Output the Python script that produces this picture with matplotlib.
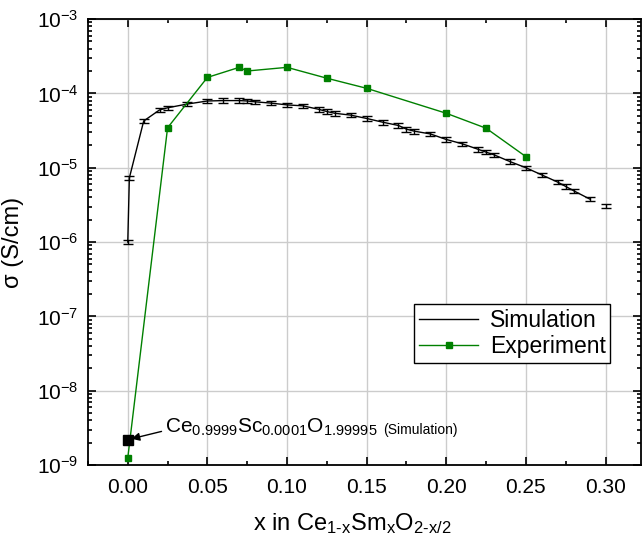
import numpy as np
import matplotlib
matplotlib.use("Agg")
import matplotlib.pyplot as plt
from matplotlib.lines import Line2D
from matplotlib.ticker import LogLocator, MultipleLocator, LogFormatterSciNotation

plt.rcParams['font.family'] = ['Liberation Sans', 'DejaVu Sans']
plt.rcParams['mathtext.fontset'] = 'custom'
plt.rcParams['mathtext.rm'] = 'Liberation Sans'
plt.rcParams['mathtext.it'] = 'Liberation Sans:italic'
plt.rcParams['mathtext.bf'] = 'Liberation Sans:bold'

# simulated conductivity (S/cm) vs Sm fraction x
sim_x = [0.0, 0.001, 0.01, 0.02, 0.025, 0.0375, 0.05, 0.06, 0.07, 0.075, 0.08, 0.09,
         0.10, 0.11, 0.12, 0.125, 0.13, 0.14, 0.15, 0.16, 0.17, 0.175, 0.18, 0.19,
         0.20, 0.21, 0.22, 0.225, 0.23, 0.24, 0.25, 0.26, 0.27, 0.275, 0.28, 0.29]
sim_y = [1.0e-6, 7.3e-6, 4.25e-5, 6.0e-5, 6.4e-5, 7.2e-5, 7.9e-5, 8.0e-5, 8.0e-5, 7.9e-5,
         7.7e-5, 7.4e-5, 7.0e-5, 6.8e-5, 6.1e-5, 5.7e-5, 5.4e-5, 5.1e-5, 4.6e-5, 4.1e-5,
         3.7e-5, 3.3e-5, 3.1e-5, 2.85e-5, 2.4e-5, 2.1e-5, 1.77e-5, 1.62e-5, 1.49e-5,
         1.21e-5, 1.0e-5, 8.0e-6, 6.4e-6, 5.6e-6, 4.9e-6, 3.8e-6]
sim_rel_err = 0.07

# lone simulation point at x = 0.30
sim_last_x = 0.30
sim_last_y = 3.07e-6

# Sc-doped reference composition
sc_x = 0.0
sc_y = 2.15e-9

# measured conductivity
exp_x = [0.0, 0.025, 0.05, 0.07, 0.075, 0.10, 0.125, 0.15, 0.20, 0.225, 0.25]
exp_y = [1.25e-9, 3.45e-5, 1.64e-4, 2.24e-4, 2.0e-4, 2.24e-4, 1.6e-4, 1.17e-4,
         5.4e-5, 3.4e-5, 1.41e-5]

green = '#008000'

fig = plt.figure(figsize=(6.42, 5.44), dpi=100)
ax = fig.add_axes([0.137, 0.145, 0.862, 0.820])

sim_y = np.array(sim_y)
ax.errorbar(sim_x, sim_y, yerr=sim_y * sim_rel_err, color='k', lw=1, elinewidth=1,
            capsize=3.5, capthick=1, zorder=3)
ax.errorbar([sim_last_x], [sim_last_y], yerr=[sim_last_y * sim_rel_err], fmt='none',
            ecolor='k', elinewidth=1, capsize=3.5, capthick=1, zorder=3)
ax.plot(exp_x, exp_y, color=green, lw=1, marker='s', ms=4.5, mfc=green, mec=green,
        zorder=4)
ax.plot([sc_x], [sc_y], 's', color='k', ms=6.5, zorder=5)

ax.annotate('', xy=(0.0023, 2.26e-9), xytext=(0.0212, 2.84e-9),
            arrowprops=dict(arrowstyle='-|>', color='k', lw=1, mutation_scale=12,
                            shrinkA=0, shrinkB=0))
ax.text(0.0233, 2.72e-9, r'Ce$_{0.9999}$Sc$_{0.0001}$O$_{1.99995}$', fontsize=15,
        va='baseline', ha='left')
ax.text(0.1605, 2.62e-9, '(Simulation)', fontsize=10, va='baseline', ha='left')

ax.set_yscale('log')
ax.set_xlim(-0.025, 0.3225)
ax.set_ylim(1e-9, 1e-3)
ax.xaxis.set_major_locator(MultipleLocator(0.05))
ax.xaxis.set_minor_locator(MultipleLocator(0.025))
ax.xaxis.set_major_formatter(plt.FuncFormatter(lambda v, p: f'{v:.2f}'))
ax.yaxis.set_major_locator(LogLocator(base=10, numticks=10))
ax.yaxis.set_minor_locator(LogLocator(base=10, subs=np.arange(2, 10), numticks=20))
ax.yaxis.set_major_formatter(LogFormatterSciNotation())

ax.grid(True, which='major', color='#cccccc', lw=1)
ax.set_axisbelow(True)
ax.tick_params(which='both', direction='in', top=True, right=True, labelsize=15,
               width=1.2)
ax.tick_params(which='major', length=6)
ax.tick_params(which='minor', length=3)
ax.tick_params(axis='x', pad=9)
ax.tick_params(axis='y', pad=7)
for s in ax.spines.values():
    s.set_linewidth(1.3)

ax.set_xlabel(r'x in Ce$_{\text{1-x}}$Sm$_{\text{x}}$O$_{\text{2-x/2}}$', fontsize=17)
ax.xaxis.set_label_coords(0.478, -0.103)
ax.set_ylabel('σ (S/cm)', fontsize=17)
ax.yaxis.set_label_coords(-0.115, 0.5)

handles = [Line2D([], [], color='k', lw=1),
           Line2D([], [], color=green, lw=1, marker='s', ms=4.5)]
leg = ax.legend(handles, ['Simulation', 'Experiment'], loc='upper left',
                bbox_to_anchor=(0.5895, 0.361), fontsize=16.5, frameon=True,
                fancybox=False, edgecolor='k', framealpha=1, borderpad=0.2,
                labelspacing=0.15, handlelength=2.6, handletextpad=0.5,
                borderaxespad=0)
leg.get_frame().set_linewidth(1)

fig.savefig('out.png', dpi=100)
